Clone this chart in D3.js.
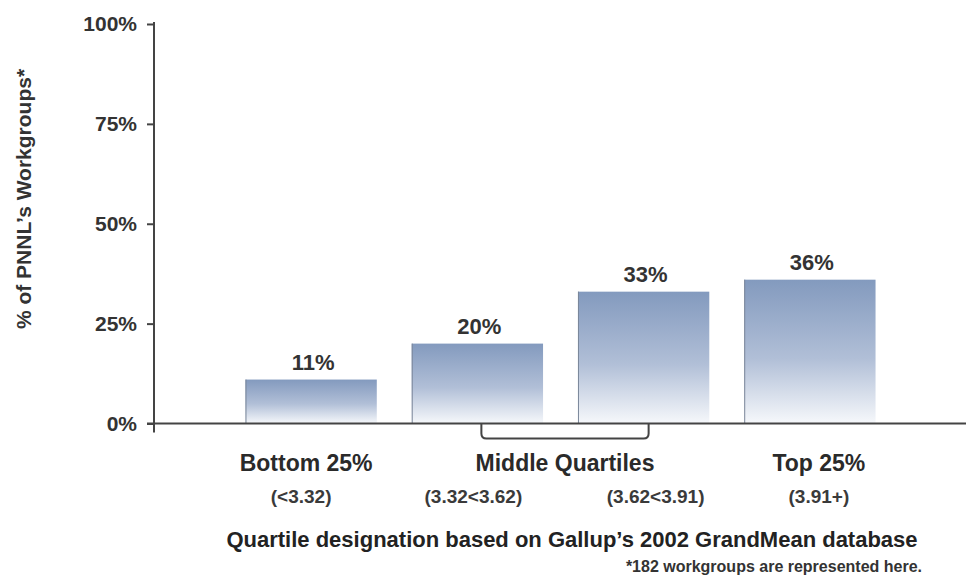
<!DOCTYPE html>
<html>
<head>
<meta charset="utf-8">
<script src="https://cdn.jsdelivr.net/npm/d3@7"></script>
<style>
  body { margin: 0; background: #fff; }
  svg { display: block; font-family: "Liberation Sans", Arial, sans-serif; }
  .axis path, .axis line { stroke: #444; stroke-width: 2; }
  .axis text { font-size: 21px; font-weight: bold; fill: #333; }
</style>
</head>
<body>
<div id="chart"></div>
<script>
// data
var categories = ["q1", "q2", "q3", "q4"];
var values = [11, 20, 33, 36];
var groupLabels = ["Bottom 25%", "Middle Quartiles", "Top 25%"];
var rangeLabels = ["(<3.32)", "(3.32<3.62)", "(3.62<3.91)", "(3.91+)"];
var yTicks = [0, 25, 50, 75, 100];

var W = 966, H = 577;

var svg = d3.select("#chart").append("svg")
    .attr("width", W)
    .attr("height", H);

var x = d3.scaleBand()
    .domain(categories)
    .range([228, 893])
    .paddingInner(0.21)
    .paddingOuter(0.105);

var y = d3.scaleLinear()
    .domain([0, 100])
    .range([423.5, 24]);

var defs = svg.append("defs");
var grad = defs.append("linearGradient")
    .attr("id", "barGrad")
    .attr("x1", 0).attr("y1", 0).attr("x2", 0).attr("y2", 1);
grad.append("stop").attr("offset", "0%").attr("stop-color", "#839abe");
grad.append("stop").attr("offset", "55%").attr("stop-color", "#b1bfd7");
grad.append("stop").attr("offset", "100%").attr("stop-color", "#f6f8fb");

// bars
var bars = svg.append("g");
bars.selectAll("rect")
    .data(values)
    .enter()
    .append("rect")
    .attr("x", function(d, i) { return x(categories[i]); })
    .attr("y", function(d) { return y(d); })
    .attr("width", x.bandwidth())
    .attr("height", function(d) { return y(0) - y(d); })
    .style("fill", "url(#barGrad)");

// darker left edge of each bar
bars.selectAll("line")
    .data(values)
    .enter()
    .append("line")
    .attr("x1", function(d, i) { return x(categories[i]) + 0.5; })
    .attr("x2", function(d, i) { return x(categories[i]) + 0.5; })
    .attr("y1", function(d) { return y(d); })
    .attr("y2", y(0))
    .style("stroke", "#7a8699")
    .style("stroke-width", 1);

// value labels
svg.append("g").selectAll("text")
    .data(values)
    .enter()
    .append("text")
    .attr("x", function(d, i) { return x(categories[i]) + x.bandwidth() / 2 + 2; })
    .attr("y", function(d) { return y(d) - 10; })
    .attr("text-anchor", "middle")
    .style("font-size", "22px")
    .style("font-weight", "bold")
    .style("fill", "#333")
    .text(function(d) { return d + "%"; });

// y axis
var yAxis = svg.append("g")
    .attr("class", "axis")
    .attr("transform", "translate(154,0)")
    .call(d3.axisLeft(y).tickValues(yTicks).tickSize(7).tickPadding(10)
        .tickFormat(function(d) { return d + "%"; }));
yAxis.select(".domain").attr("d", "M0," + (y(100) - 2) + "V" + (y(0) + 9));

// x axis line
svg.append("line")
    .attr("x1", 147).attr("x2", W)
    .attr("y1", y(0)).attr("y2", y(0))
    .style("stroke", "#444")
    .style("stroke-width", 2);

// y axis title
svg.append("text")
    .attr("transform", "translate(31,199) rotate(-90)")
    .attr("text-anchor", "middle")
    .style("font-size", "21px")
    .style("font-weight", "bold")
    .style("fill", "#333")
    .text("% of PNNL\u2019s Workgroups*");

// bracket under middle quartiles
var bx0 = x(categories[1]) + x.bandwidth() / 2 + 4;
var bx1 = x(categories[2]) + x.bandwidth() / 2 + 5;
var by0 = y(0), by1 = y(0) + 15, r = 5;
svg.append("path")
    .attr("d", "M" + bx0 + "," + by0 + "V" + (by1 - r) + "Q" + bx0 + "," + by1 + " " + (bx0 + r) + "," + by1 +
               "H" + (bx1 - r) + "Q" + bx1 + "," + by1 + " " + bx1 + "," + (by1 - r) + "V" + by0)
    .style("fill", "none")
    .style("stroke", "#444")
    .style("stroke-width", 2);

// group labels
var groupX = [
    x(categories[0]) + x.bandwidth() / 2 - 5,
    (bx0 + bx1) / 2,
    x(categories[3]) + x.bandwidth() / 2 + 9
];
svg.append("g").selectAll("text")
    .data(groupLabels)
    .enter()
    .append("text")
    .attr("x", function(d, i) { return groupX[i]; })
    .attr("y", 471)
    .attr("text-anchor", "middle")
    .style("font-size", "23px")
    .style("font-weight", "bold")
    .style("fill", "#2a2a2a")
    .text(function(d) { return d; });

// score ranges
var rangeOffset = [-10, -4, 12, 9];
svg.append("g").selectAll("text")
    .data(rangeLabels)
    .enter()
    .append("text")
    .attr("x", function(d, i) { return x(categories[i]) + x.bandwidth() / 2 + rangeOffset[i]; })
    .attr("y", 503)
    .attr("text-anchor", "middle")
    .style("font-size", "19px")
    .style("font-weight", "bold")
    .style("fill", "#3a3a3a")
    .text(function(d) { return d; });

// x axis title
svg.append("text")
    .attr("x", 572)
    .attr("y", 547)
    .attr("text-anchor", "middle")
    .style("font-size", "22px")
    .style("font-weight", "bold")
    .style("fill", "#222")
    .text("Quartile designation based on Gallup\u2019s 2002 GrandMean database");

// footnote
svg.append("text")
    .attr("x", 922)
    .attr("y", 572)
    .attr("text-anchor", "end")
    .style("font-size", "16px")
    .style("font-weight", "bold")
    .style("fill", "#333")
    .text("*182 workgroups are represented here.");
</script>
</body>
</html>
